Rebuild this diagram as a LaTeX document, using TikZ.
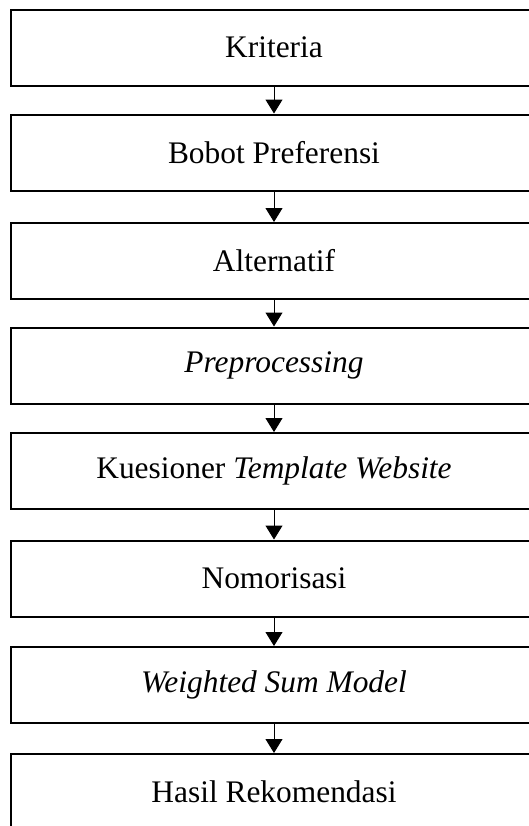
\documentclass[tikz,border=0pt]{standalone}
\usepackage{fontspec}
\setmainfont{Liberation Serif}
\usetikzlibrary{arrows.meta}

\tikzset{
  stepbox/.style={draw, rectangle, line width=1pt, minimum width=263pt, minimum height=38pt, inner sep=0pt, font=\fontsize{15.7}{19}\selectfont},
  flow/.style={line width=0.5pt, -{Triangle[width=8.5pt,length=7pt]}}
}

\begin{document}
\begin{tikzpicture}[x=0.5pt,y=-0.5pt]
    \useasboundingbox (0,0) rectangle (529,826);
    \clip (0,0) rectangle (529,826);
\node[stepbox] (kriteria) at (274,47.5) {Kriteria}; % step 1
\node[stepbox] (bobot) at (274,152.5) {Bobot Preferensi}; % step 2
\node[stepbox] (alternatif) at (274,261) {Alternatif}; % step 3
\node[stepbox] (prepro) at (274,365.5) {\textit{Preprocessing}}; % step 4
\node[stepbox] (kuesioner) at (274,471) {Kuesioner \textit{Template Website}}; % step 5
\node[stepbox] (normal) at (274,578.5) {Nomorisasi}; % step 6
\node[stepbox] (wsm) at (274,685) {\textit{Weighted Sum Model}}; % step 7
\node[stepbox] (hasil) at (274,792) {Hasil Rekomendasi}; % step 8
\draw[flow] (kriteria) -- (bobot);
\draw[flow] (bobot) -- (alternatif);
\draw[flow] (alternatif) -- (prepro);
\draw[flow] (prepro) -- (kuesioner);
\draw[flow] (kuesioner) -- (normal);
\draw[flow] (normal) -- (wsm);
\draw[flow] (wsm) -- (hasil);

    \end{tikzpicture}
\end{document}
